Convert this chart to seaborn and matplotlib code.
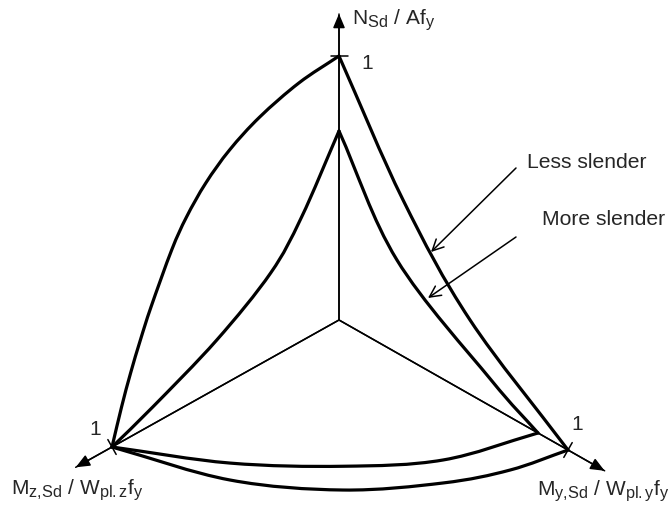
import matplotlib
matplotlib.use("Agg")
import matplotlib.pyplot as plt
from matplotlib.path import Path
from matplotlib.patches import PathPatch
import matplotlib._mathtext as _mathtext
import numpy as np
import seaborn as sns

sns.set_theme(style="white")
plt.rcParams["font.family"] = ["Liberation Sans", "DejaVu Sans"]
plt.rcParams["mathtext.fontset"] = "custom"
plt.rcParams["mathtext.rm"] = "Liberation Sans"
plt.rcParams["mathtext.it"] = "Liberation Sans:italic"
plt.rcParams["mathtext.bf"] = "Liberation Sans:bold"
# slightly larger subscripts than the mathtext default
_mathtext.SHRINK_FACTOR = 0.78

# ---- normalised interaction curves -------------------------------------
# N / My plane  (my, n)
less_ny_my = [0.0, 0.280, 0.572, 1.0]
less_ny_n = [1.0, 0.592, 0.282, 0.0]
more_ny_my = [0.0, 0.253, 0.664, 0.869]
more_ny_n = [0.716, 0.352, 0.100, 0.0]

# N / Mz plane  (mz, n)
less_nz_mz = [0.0, 0.176, 0.349, 0.482, 0.587, 0.672, 0.737, 0.828, 0.875, 0.918, 0.958, 1.0]
less_nz_n = [1.0, 0.983, 0.937, 0.876, 0.801, 0.713, 0.620, 0.448, 0.345, 0.241, 0.131, 0.0]
more_nz_mz = [0.0, 0.165, 0.301, 0.539, 0.821, 1.0]
more_nz_n = [0.716, 0.469, 0.323, 0.183, 0.065, 0.0]

# My / Mz plane  (my, mz)
less_yz_my = [0.0, 0.384, 0.667, 0.857, 0.952, 1.0]
less_yz_mz = [1.0, 0.867, 0.656, 0.406, 0.207, 0.0]
more_yz_my = [0.0, 0.318, 0.576, 0.768, 0.869]
more_yz_mz = [1.0, 0.801, 0.562, 0.316, 0.0]

axis_length = 1.16
unit_tick = 1.0

# ---- oblique projection (screen units, y pointing down) -----------------
ORIGIN = np.array([339.0, 320.0])
E_N = np.array([0.0, -264.0])
E_MY = np.array([229.0, 130.0])
E_MZ = np.array([-227.0, 127.0])


def proj(n=0.0, my=0.0, mz=0.0):
    n, my, mz = (np.atleast_1d(np.asarray(v, float)) for v in (n, my, mz))
    p = (ORIGIN[:, None] + np.outer(E_N, n)
         + np.outer(E_MY, my) + np.outer(E_MZ, mz))
    return p[0], p[1]


def smooth_path(x, y):
    """Catmull-Rom spline through the given points, as cubic Bezier segments."""
    pts = np.column_stack([x, y])
    ext = np.vstack([2 * pts[0] - pts[1], pts, 2 * pts[-1] - pts[-2]])
    verts = [pts[0]]
    codes = [Path.MOVETO]
    for i in range(1, len(ext) - 2):
        p0, p1, p2, p3 = ext[i - 1], ext[i], ext[i + 1], ext[i + 2]
        c1 = p1 + (p2 - p0) / 6.0
        c2 = p2 - (p3 - p1) / 6.0
        verts += [c1, c2, p2]
        codes += [Path.CURVE4] * 3
    return Path(verts, codes)


fig = plt.figure(figsize=(6.70, 5.11), dpi=100)
ax = fig.add_axes([0, 0, 1, 1])

# coordinate axes with arrowheads
for d in [dict(n=axis_length), dict(my=axis_length), dict(mz=axis_length)]:
    x0, y0 = proj()
    x1, y1 = proj(**d)
    sns.lineplot(x=[x0[0], x1[0]], y=[y0[0], y1[0]], sort=False, estimator=None,
                 color="black", lw=1.1, ax=ax)
    ax.annotate("", xy=(x1[0], y1[0]), xytext=(x0[0], y0[0]),
                arrowprops=dict(arrowstyle="-|>,head_length=0.85,head_width=0.36",
                                mutation_scale=10, lw=1.1, color="black",
                                shrinkA=0, shrinkB=0))

# unit ticks, perpendicular to each axis
for d, e in [(dict(n=unit_tick), E_N), (dict(my=unit_tick), E_MY), (dict(mz=unit_tick), E_MZ)]:
    cx, cy = proj(**d)
    perp = np.array([-e[1], e[0]]) / np.hypot(*e) * 8.5
    ax.plot([cx[0] - perp[0], cx[0] + perp[0]], [cy[0] - perp[1], cy[0] + perp[1]],
            color="black", lw=1.1)

# interaction curves
curves = [
    proj(n=less_ny_n, my=less_ny_my), proj(n=more_ny_n, my=more_ny_my),
    proj(n=less_nz_n, mz=less_nz_mz), proj(n=more_nz_n, mz=more_nz_mz),
    proj(my=less_yz_my, mz=less_yz_mz), proj(my=more_yz_my, mz=more_yz_mz),
]
for cx, cy in curves:
    ax.add_patch(PathPatch(smooth_path(cx, cy), fill=False, lw=2.3,
                           edgecolor="black", capstyle="round", joinstyle="round"))

fs = 15.0
ax.text(352, 25, r"$\mathrm{N_{Sd}\ /\ Af_{y}}$", fontsize=fs, va="baseline", ha="left")
ax.text(537, 496, r"$\mathrm{M_{y{,}Sd}\ /\ W_{pl{.}y}f_{y}}$", fontsize=fs,
        va="baseline", ha="left")
ax.text(144, 495, r"$\mathrm{M_{z{,}Sd}\ /\ W_{pl{.}z}f_{y}}$", fontsize=fs,
        va="baseline", ha="right")
ax.text(361, 69, "1", fontsize=fs, va="baseline", ha="left")
ax.text(571, 430, "1", fontsize=fs, va="baseline", ha="left")
ax.text(89, 435, "1", fontsize=fs, va="baseline", ha="left")

ax.text(527, 168, "Less slender", fontsize=15.2, va="baseline", ha="left")
ax.text(542, 225, "More slender", fontsize=15.2, va="baseline", ha="left")
leader = dict(arrowstyle="->,head_length=0.8,head_width=0.4", mutation_scale=10,
              lw=1.1, color="black", shrinkA=0, shrinkB=0)
ax.annotate("", xy=(431, 252), xytext=(516, 168), arrowprops=leader)
ax.annotate("", xy=(428, 298), xytext=(516, 237), arrowprops=leader)

ax.set_xlim(0, 670)
ax.set_ylim(511, 0)
ax.axis("off")
fig.savefig("out.png", dpi=100, facecolor="white")
